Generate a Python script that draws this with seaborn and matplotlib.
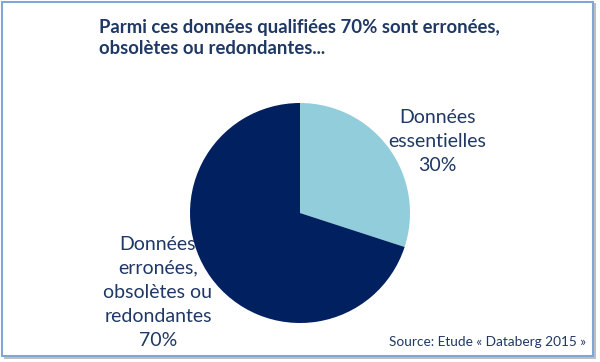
import matplotlib
matplotlib.use("Agg")
import matplotlib.pyplot as plt
import seaborn as sns
from matplotlib.patches import Rectangle

# ── Data ─────────────────────────────────────────────
labels = ["Données\nessentielles", "Données\nerronées,\nobsolètes ou\nredondantes"]
shares = [30, 70]
colors = ["#92CDDC", "#002060"]
title = "Parmi ces données qualifiées 70% sont erronées,\nobsolètes ou redondantes..."
source = "Source: Etude « Databerg 2015 »"

sns.set_theme(style="white")
plt.rcParams["font.family"] = ["Lato", "DejaVu Sans"]
TXT = "#1F3864"

W, H = 600, 362
fig = plt.figure(figsize=(W / 100, H / 100), dpi=100)
fig.patch.set_facecolor("white")

def fx(px):
    return px / W

def fy(py):
    return 1 - py / H

# frame with shadow
fig.patches.append(Rectangle((fx(4), fy(359)), fx(592), 356 / H, transform=fig.transFigure,
                             facecolor="#BFBFBF", edgecolor="none", zorder=0))
fig.patches.append(Rectangle((fx(1.5), fy(356)), fx(591), 354.5 / H, transform=fig.transFigure,
                             facecolor="white", edgecolor="#7EA6D8", linewidth=1.5, zorder=1))

# pie
ax = fig.add_axes([fx(190), fy(323), fx(220), 220 / H])
ax.pie(shares, colors=colors, startangle=90, counterclock=False,
       wedgeprops=dict(linewidth=0))
ax.set_xlim(-1, 1)
ax.set_ylim(-1, 1)
ax.set_aspect("equal")
ax.set_zorder(2)

fig.text(fx(99), fy(38), title, ha="left", va="center", fontsize=13.3,
         fontweight="bold", color=TXT, linespacing=1.3, zorder=3)

fig.text(fx(437), fy(141), f"{labels[0]}\n{shares[0]}%", ha="center", va="center",
         fontsize=14, color=TXT, linespacing=1.5, zorder=3)
fig.text(fx(158), fy(292), f"{labels[1]}\n{shares[1]}%", ha="center", va="center",
         fontsize=14, color=TXT, linespacing=1.5, zorder=3)

fig.text(fx(586), fy(342), source, ha="right", va="center", fontsize=9.8,
         color=TXT, zorder=3)

fig.savefig("out.png", dpi=100)
